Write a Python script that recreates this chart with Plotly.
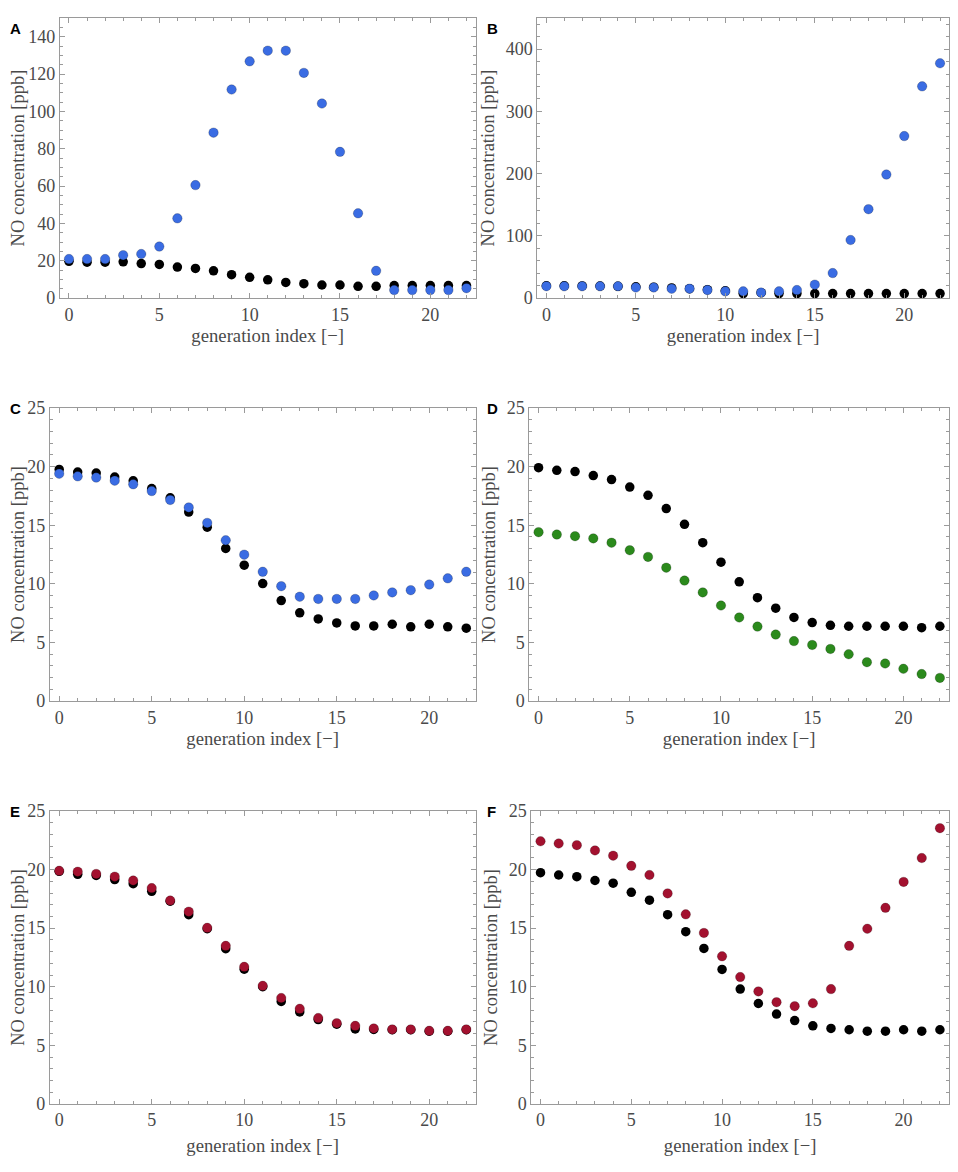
"""
NO concentration along the airway generations, six panels (A-F)
"""
import plotly.graph_objects as go

gen_index = list(range(23))

# Panel A - baseline (black) vs blue scenario
a_base = [19.7, 19.2, 19.2, 19.4, 18.5, 18.0, 16.6, 15.9, 14.6, 12.5, 11.1, 9.8,
          8.4, 7.7, 7.0, 7.0, 6.3, 6.3, 6.7, 6.7, 6.7, 6.7, 6.7]
a_blue = [20.9, 20.9, 20.9, 23.0, 23.6, 27.6, 42.7, 60.5, 88.6, 111.7, 126.8, 132.5,
          132.5, 120.6, 104.2, 78.3, 45.4, 14.6, 4.3, 4.3, 4.3, 4.3, 5.3]

# Panel B
b_base = [19.8, 19.6, 19.5, 19.2, 18.9, 18.2, 17.5, 16.3, 15.0, 13.4, 11.7, 7.2,
          8.7, 7.2, 7.2, 7.2, 7.2, 7.2, 7.2, 7.2, 7.2, 7.2, 7.2]
b_blue = [19.1, 19.0, 19.0, 19.0, 19.0, 17.0, 17.0, 15.0, 15.0, 12.9, 10.8, 10.8,
          8.8, 10.8, 12.9, 21.6, 40.2, 93.3, 142.8, 198.5, 260.3, 340.2, 377.3]

# Panel C
c_base = [19.77, 19.54, 19.46, 19.12, 18.79, 18.14, 17.35, 16.13, 14.84, 13.02, 11.59, 10.02,
          8.57, 7.53, 7.0, 6.66, 6.41, 6.41, 6.55, 6.33, 6.55, 6.33, 6.21]
c_blue = [19.40, 19.18, 19.07, 18.81, 18.5, 17.92, 17.16, 16.52, 15.2, 13.72, 12.49, 11.03,
          9.8, 8.9, 8.71, 8.71, 8.71, 9.01, 9.27, 9.46, 9.94, 10.47, 11.03]

# Panel D
d_base = [19.92, 19.69, 19.58, 19.24, 18.9, 18.26, 17.56, 16.43, 15.08, 13.51, 11.85, 10.17,
          8.82, 7.92, 7.13, 6.69, 6.46, 6.38, 6.38, 6.38, 6.38, 6.26, 6.38]
d_green = [14.41, 14.21, 14.07, 13.88, 13.51, 12.87, 12.3, 11.38, 10.28, 9.27, 8.15, 7.13,
           6.35, 5.67, 5.11, 4.78, 4.44, 3.99, 3.31, 3.2, 2.75, 2.3, 1.97]

# Panel E
e_base = [19.85, 19.6, 19.5, 19.15, 18.8, 18.15, 17.3, 16.15, 14.95, 13.25, 11.5, 10.0,
          8.75, 7.85, 7.2, 6.8, 6.4, 6.35, 6.33, 6.33, 6.2, 6.2, 6.33]
e_red = [19.9, 19.82, 19.63, 19.4, 19.07, 18.42, 17.36, 16.41, 15.03, 13.49, 11.7, 10.08,
         9.04, 8.12, 7.33, 6.89, 6.66, 6.44, 6.36, 6.36, 6.24, 6.24, 6.36]

# Panel F
f_base = [19.74, 19.54, 19.4, 19.07, 18.84, 18.06, 17.39, 16.15, 14.7, 13.27, 11.48, 9.8,
          8.57, 7.67, 7.11, 6.66, 6.44, 6.33, 6.21, 6.21, 6.33, 6.21, 6.33]
f_red = [22.42, 22.23, 22.09, 21.64, 21.19, 20.32, 19.54, 17.97, 16.18, 14.59, 12.6, 10.83,
         9.6, 8.68, 8.34, 8.59, 9.8, 13.49, 14.95, 16.74, 18.95, 20.99, 23.54]

BLUE = '#3a6ce3'
GREEN = '#2b8a1c'
RED = '#a3112f'
FRAME = '#9a9a9a'
TEXT = '#4a4a4a'
SERIF = 'Liberation Serif, Times New Roman, serif'

# page is 958x1172, the html body keeps an 8px margin round the figure
PAGE_MARGIN = 8
W, H = 958 - 2 * PAGE_MARGIN, 1172 - 2 * PAGE_MARGIN


def px_x(x):
    return min(max((x - PAGE_MARGIN) / W, 0), 1)


def px_y(y):
    return min(max(1 - (y - PAGE_MARGIN) / H, 0), 1)


# letter, x-domain (page px), y-domain (page px top, bottom), x-title standoff,
# base, series, colour, ymax, ydtick, yminor
panels = [
    ('A', (60, 476), (6, 293), 4, a_base, a_blue, BLUE, 150, 20, 5),
    ('B', (538, 950), (6, 293), 4, b_base, b_blue, BLUE, 450, 100, 20),
    ('C', (50, 476), (405, 703), 4, c_base, c_blue, BLUE, 25, 5, 1),
    ('D', (530, 950), (405, 703), 4, d_base, d_green, GREEN, 25, 5, 1),
    ('E', (50, 476), (815, 1113), 9, e_base, e_red, RED, 25, 5, 1),
    ('F', (532, 950), (815, 1113), 9, f_base, f_red, RED, 25, 5, 1),
]

fig = go.Figure()
annotations = []

for idx, (letter, xd, yd, standoff, base, series, color, ymax, ydtick, yminor) in enumerate(panels):
    n = '' if idx == 0 else str(idx + 1)
    xref, yref = 'x' + n, 'y' + n

    # baseline first so the coloured dots sit on top
    fig.add_trace(go.Scatter(
        x=gen_index, y=base, mode='markers', xaxis=xref, yaxis=yref,
        marker=dict(color='black', size=9.5, line=dict(width=0)),
        showlegend=False, hovertemplate='%{x}: %{y}<extra></extra>'))
    fig.add_trace(go.Scatter(
        x=gen_index, y=series, mode='markers', xaxis=xref, yaxis=yref,
        marker=dict(color=color, size=9.5, line=dict(width=0.6, color='rgba(0,0,0,0.35)')),
        showlegend=False, hovertemplate='%{x}: %{y}<extra></extra>'))

    axis_common = dict(
        showline=True, linecolor=FRAME, linewidth=1, mirror='allticks',
        ticks='inside', ticklen=5, tickcolor=FRAME, tickwidth=1,
        showgrid=False, zeroline=False,
        tickfont=dict(family=SERIF, size=18, color=TEXT),
    )
    fig.update_layout({
        'xaxis' + n: dict(
            axis_common, domain=[px_x(xd[0]), px_x(xd[1])], anchor=yref,
            range=[-0.5, 22.5], tick0=0, dtick=5,
            minor=dict(dtick=1, ticks='inside', ticklen=3, tickcolor=FRAME),
            title=dict(text='generation index [\u2212]', standoff=standoff,
                       font=dict(family=SERIF, size=18.7, color=TEXT)),
        ),
        'yaxis' + n: dict(
            axis_common, domain=[px_y(yd[1]), px_y(yd[0])], anchor=xref,
            range=[0, ymax], tick0=0, dtick=ydtick,
            minor=dict(dtick=yminor, ticks='inside', ticklen=3, tickcolor=FRAME),
            title=dict(text='NO concentration [ppb]', standoff=6,
                       font=dict(family=SERIF, size=18.5, color=TEXT)),
        ),
    })

    # panel letter
    top = yd[0] - 10 if yd[0] > 10 else 8
    annotations.append(dict(
        text='<b>%s</b>' % letter, xref='paper', yref='paper',
        x=px_x(8 if xd[0] < 479 else 486), y=px_y(top),
        xanchor='left', yanchor='top', showarrow=False,
        font=dict(family='Liberation Sans, Arial, sans-serif', size=15, color='black')))

fig.update_layout(
    width=W, height=H,
    margin=dict(l=0, r=0, t=0, b=0),
    plot_bgcolor='white', paper_bgcolor='white',
    annotations=annotations,
)

fig.write_html("out.html")
